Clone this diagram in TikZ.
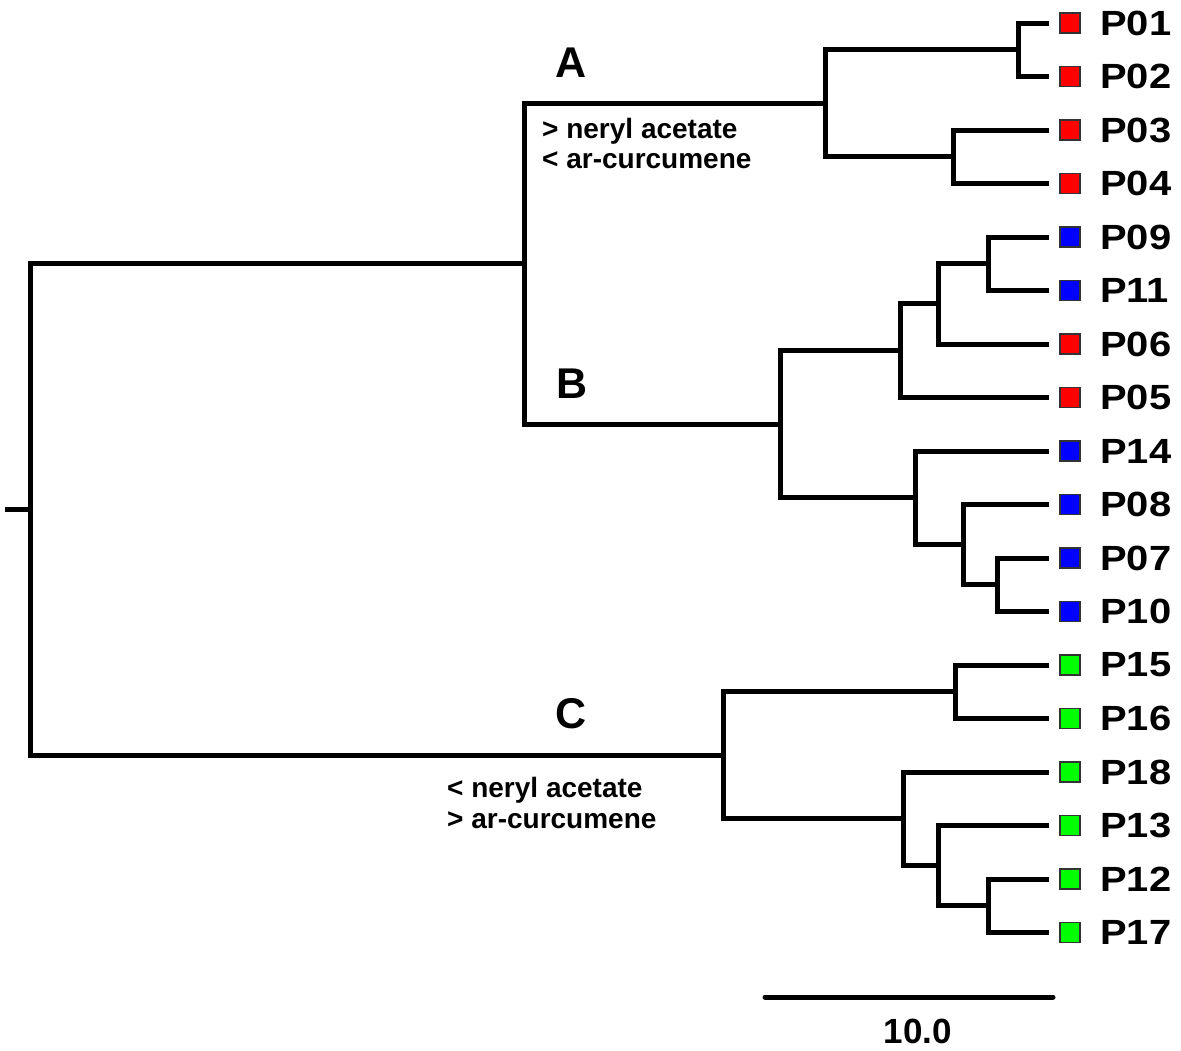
\documentclass[tikz,border=0pt]{standalone}
\usepackage{fontspec}
\setmainfont{Liberation Sans}
\definecolor{leafred}{RGB}{255,0,0}
\definecolor{leafblue}{RGB}{0,0,255}
\definecolor{leafgreen}{RGB}{0,255,0}
\tikzset{
  branch/.style={line width=5pt, line join=miter, line cap=butt},
  sq/.style={draw=black!80, line width=1.2pt, minimum size=20pt, inner sep=0pt},
  leaflbl/.style={anchor=west, inner sep=0pt, font=\fontsize{35}{40}\selectfont\bfseries},
  cladelbl/.style={inner sep=0pt, font=\fontsize{43}{48}\selectfont\bfseries},
  note/.style={anchor=base west, inner sep=0pt, font=\fontsize{28}{32}\selectfont\bfseries},
}
\newcommand{\stretchlbl}[1]{\scalebox{1.14}[1]{#1}}
\begin{document}
\begin{tikzpicture}[x=1pt,y=-1pt]
\useasboundingbox (0,0) rectangle (1181,1050);
% leaf ends
\foreach \n/\y in {P01/23, P02/76.5, P03/130, P04/183.5, P09/237, P11/290.5, P06/344, P05/397.5,
                   P14/451, P08/504.5, P07/558, P10/611.5, P15/665, P16/718.5, P18/772, P13/825.5,
                   P12/879, P17/932.5} {
  \coordinate (e\n) at (1049,\y);
}
% internal nodes
\coordinate (n0102) at (1018,49.75);
\coordinate (n0304) at (953,156.75);
\coordinate (nA) at (825,103.25);
\coordinate (n0911) at (988,263.75);
\coordinate (n091106) at (938,303.9);
\coordinate (nB1) at (900,350.7);
\coordinate (n0710) at (997,584.75);
\coordinate (n080710) at (963,544.6);
\coordinate (nB2) at (915,497.8);
\coordinate (nB) at (780,424.25);
\coordinate (nAB) at (524,263.75);
\coordinate (n1516) at (955,691.75);
\coordinate (n1217) at (988,905.75);
\coordinate (n13) at (938,865.6);
\coordinate (n18) at (903,818.8);
\coordinate (nC) at (723,755.3);
\coordinate (root) at (30,509.5);
\coordinate (stub) at (5,509.5);
% branches
\draw[branch] (eP01) -| (n0102) |- (eP02);
\draw[branch] (eP03) -| (n0304) |- (eP04);
\draw[branch] (n0102) -| (nA) |- (n0304);
\draw[branch] (eP09) -| (n0911) |- (eP11);
\draw[branch] (n0911) -| (n091106) |- (eP06);
\draw[branch] (n091106) -| (nB1) |- (eP05);
\draw[branch] (eP07) -| (n0710) |- (eP10);
\draw[branch] (eP08) -| (n080710) |- (n0710);
\draw[branch] (eP14) -| (nB2) |- (n080710);
\draw[branch] (nB1) -| (nB) |- (nB2);
\draw[branch] (nA) -| (nAB) |- (nB);
\draw[branch] (eP15) -| (n1516) |- (eP16);
\draw[branch] (eP12) -| (n1217) |- (eP17);
\draw[branch] (eP13) -| (n13) |- (n1217);
\draw[branch] (eP18) -| (n18) |- (n13);
\draw[branch] (n1516) -| (nC) |- (n18);
\draw[branch] (nAB) -| (root) |- (nC);
\draw[branch] (stub) -- (root);
% leaf squares and labels
\foreach \n/\y/\c in {P01/23/leafred, P02/76.5/leafred, P03/130/leafred, P04/183.5/leafred,
                      P09/237/leafblue, P11/290.5/leafblue, P06/344/leafred, P05/397.5/leafred,
                      P14/451/leafblue, P08/504.5/leafblue, P07/558/leafblue, P10/611.5/leafblue,
                      P15/665/leafgreen, P16/718.5/leafgreen, P18/772/leafgreen, P13/825.5/leafgreen,
                      P12/879/leafgreen, P17/932.5/leafgreen} {
  \node[sq, fill=\c] (s\n) at (1070,\y) {};
  \node[leaflbl] (t\n) at (1100,\y) {\stretchlbl{\n}};
}
% clade labels
\node[cladelbl] (lA) at (571,63) {A};
\node[cladelbl] (lB) at (572,384) {B};
\node[cladelbl] (lC) at (571,714) {C};
\node[note] (tA1) at (542,138) {> neryl acetate};
\node[note] (tA2) at (542,168) {< ar-curcumene};
\node[note] (tC1) at (447,797) {< neryl acetate};
\node[note] (tC2) at (447,828) {> ar-curcumene};
% scale bar
\coordinate (sb1) at (765,997);
\coordinate (sb2) at (1053,997);
\draw[line width=5pt, line cap=round] (sb1) -- (sb2);
\node[anchor=base, inner sep=0pt, font=\fontsize{35}{40}\selectfont\bfseries] (sbl) at (918,1043) {10.0};
\end{tikzpicture}
\end{document}
